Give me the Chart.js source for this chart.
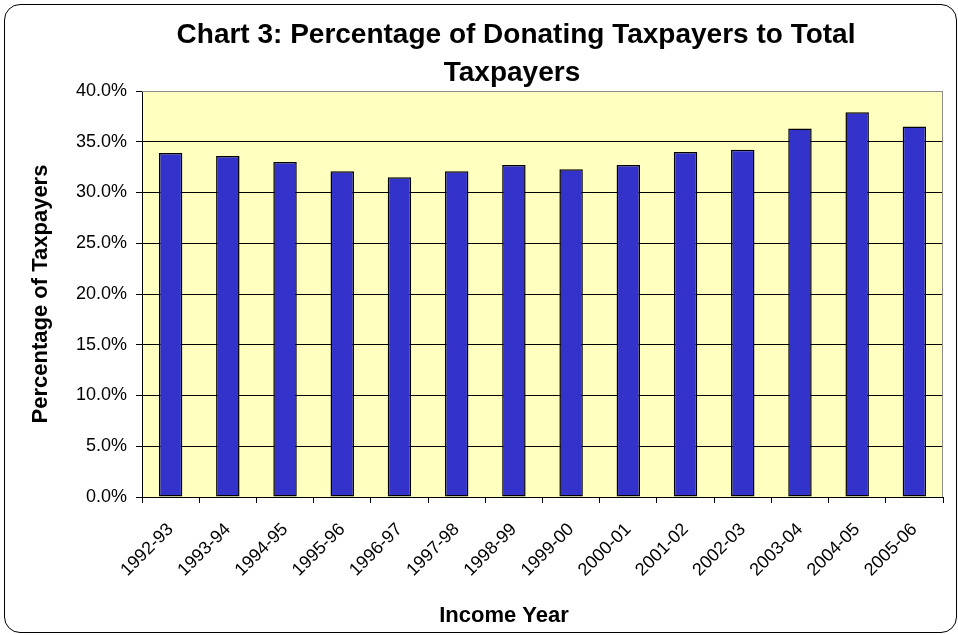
<!DOCTYPE html>
<html>
<head>
<meta charset="utf-8">
<script src="https://cdn.jsdelivr.net/npm/chart.js@4/dist/chart.umd.min.js"></script>
<style>
  html, body { margin: 0; padding: 0; background: #fff; }
  #wrap { position: relative; width: 958px; height: 635px; }
  #frame {
    position: absolute; left: 4px; top: 4px; width: 951px; height: 627px;
    border: 1.5px solid #000; border-radius: 16px; pointer-events: none;
  }
</style>
</head>
<body>
<div id="wrap">
  <canvas id="grafico" width="958" height="635"></canvas>
  <div id="frame"></div>
</div>
<script>
const anos = ['1992-93', '1993-94', '1994-95', '1995-96', '1996-97', '1997-98', '1998-99',
  '1999-00', '2000-01', '2001-02', '2002-03', '2003-04', '2004-05', '2005-06']
const percentuais = [33.9, 33.6, 33.0, 32.1, 31.5, 32.1, 32.7, 32.3, 32.7, 34.0, 34.2, 36.3, 37.9, 36.5]
const tituloLinhas = ['Chart 3: Percentage of Donating Taxpayers to Total', 'Taxpayers']
const tituloX = 'Income Year'
const tituloY = 'Percentage of Taxpayers'

const fonte = 'Liberation Sans, Arial, sans-serif'

// fundo amarelo + moldura cinza da área do gráfico
const areaPlot = {
  id: 'areaPlot',
  beforeDraw(chart) {
    const { ctx, chartArea: a } = chart
    ctx.save()
    ctx.fillStyle = '#FFFFC0'
    ctx.fillRect(a.left, a.top, a.right - a.left, a.bottom - a.top)
    ctx.restore()
  },
  afterDatasetsDraw(chart) {
    const { ctx, chartArea: a } = chart
    ctx.save()
    ctx.strokeStyle = '#8c8c8c'
    ctx.lineWidth = 1
    ctx.beginPath()
    ctx.moveTo(a.left, a.top + 0.5)
    ctx.lineTo(a.right - 0.5, a.top + 0.5)
    ctx.lineTo(a.right - 0.5, a.bottom)
    ctx.stroke()
    ctx.restore()
  }
}

// títulos no estilo Excel (não centralizados no canvas)
const textos = {
  id: 'textos',
  afterDraw(chart) {
    const { ctx } = chart
    ctx.save()
    ctx.fillStyle = '#000'
    ctx.textAlign = 'center'
    ctx.textBaseline = 'alphabetic'
    ctx.font = 'bold 28px ' + fonte
    ctx.fillText(tituloLinhas[0], 516, 43)
    ctx.fillText(tituloLinhas[1], 512, 81)
    ctx.font = 'bold 22px ' + fonte
    ctx.fillText(tituloX, 504, 622)
    ctx.restore()
  }
}

new Chart(document.getElementById('grafico'), {
  type: 'bar',
  data: {
    labels: anos,
    datasets: [{
      data: percentuais,
      backgroundColor: '#3333CC',
      borderColor: '#000000',
      borderWidth: 1.5,
      borderSkipped: false,
      barPercentage: 0.41,
      categoryPercentage: 1
    }]
  },
  options: {
    responsive: false,
    animation: false,
    layout: { padding: { top: 91, right: 15, left: 0, bottom: 0 } },
    plugins: {
      legend: { display: false },
      tooltip: { enabled: false }
    },
    scales: {
      x: {
        afterFit: s => { s.height = 138 },
        grid: { drawOnChartArea: false, drawTicks: true, tickLength: 6, color: '#000' },
        border: { display: true, color: '#000', width: 1 },
        ticks: {
          color: '#000', font: { family: fonte, size: 18 },
          maxRotation: 45, minRotation: 45, padding: 16, autoSkip: false
        }
      },
      y: {
        min: 0,
        max: 40,
        afterFit: s => { s.width = 142 },
        grid: {
          color: c => c.tick && c.tick.value === 40 ? '#8c8c8c' : '#000',
          tickColor: '#000',
          tickLength: 6
        },
        border: { display: true, color: '#000', width: 1 },
        ticks: {
          stepSize: 5, color: '#000', padding: 9,
          font: { family: fonte, size: 18 },
          callback: v => v.toFixed(1) + '%'
        },
        title: {
          display: true, text: tituloY, color: '#000',
          font: { family: fonte, size: 22, weight: 'bold' },
          padding: { top: 28, bottom: 0 }
        }
      }
    }
  },
  plugins: [areaPlot, textos]
})
</script>
</body>
</html>
